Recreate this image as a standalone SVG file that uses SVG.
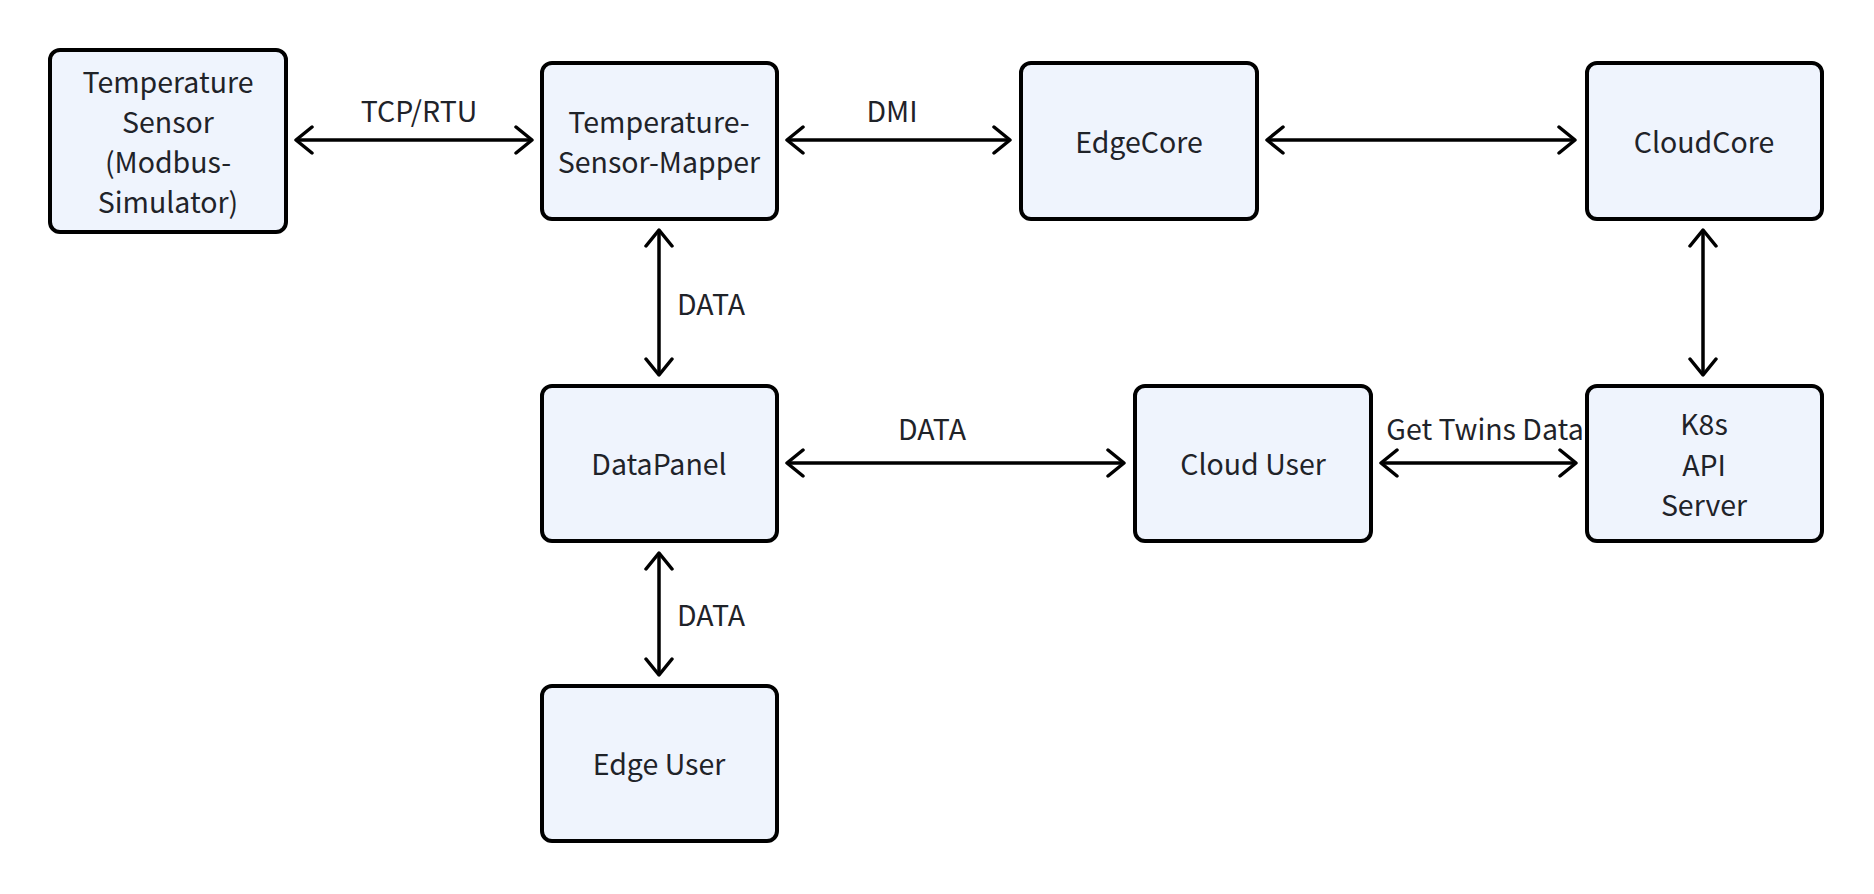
<svg xmlns="http://www.w3.org/2000/svg" width="1874" height="894" viewBox="0 0 1874 894">
<defs>
<style>
.node rect{fill:#eff4fd;stroke:#000;stroke-width:4}
.node text,.lbl{font-family:"Noto Sans CJK SC","Noto Sans",sans-serif;font-size:28.5px;fill:#1f2329;text-anchor:middle}
.lbl.l{text-anchor:start}
.conn line{stroke:#000;stroke-width:3.5;fill:none}
</style>
<marker id="at" viewBox="0 0 20 30" refX="18" refY="15" markerWidth="20" markerHeight="30" markerUnits="userSpaceOnUse" orient="auto-start-reverse">
<path d="M2,2 L18,15 L2,28" fill="none" stroke="#000" stroke-width="3.5" stroke-linecap="round" stroke-linejoin="round"/>
</marker>
</defs>
<rect width="1874" height="894" fill="#fff"/>
<g id="connectors" class="conn">
<line x1="296" y1="140" x2="532" y2="140" marker-start="url(#at)" marker-end="url(#at)"/>
<line x1="787" y1="140" x2="1010" y2="140" marker-start="url(#at)" marker-end="url(#at)"/>
<line x1="1267" y1="140" x2="1575" y2="140" marker-start="url(#at)" marker-end="url(#at)"/>
<line x1="1703" y1="230" x2="1703" y2="375" marker-start="url(#at)" marker-end="url(#at)"/>
<line x1="659" y1="230" x2="659" y2="375" marker-start="url(#at)" marker-end="url(#at)"/>
<line x1="787" y1="463" x2="1124" y2="463" marker-start="url(#at)" marker-end="url(#at)"/>
<line x1="1381" y1="463" x2="1576" y2="463" marker-start="url(#at)" marker-end="url(#at)"/>
<line x1="659" y1="553" x2="659" y2="675" marker-start="url(#at)" marker-end="url(#at)"/>
<text class="lbl" x="419" y="122">TCP/RTU</text>
<text class="lbl" x="892" y="122">DMI</text>
<text class="lbl l" x="677" y="315">DATA</text>
<text class="lbl" x="932" y="440">DATA</text>
<text class="lbl" x="1485" y="440">Get Twins Data</text>
<text class="lbl l" x="677" y="626">DATA</text>
</g>
<g id="temperature-sensor" class="node">
<rect x="50" y="50" width="236" height="182" rx="10"/>
<text x="168" y="93">Temperature</text>
<text x="168" y="133">Sensor</text>
<text x="168" y="173">(Modbus-</text>
<text x="168" y="213">Simulator)</text>
</g>
<g id="mapper" class="node">
<rect x="542" y="63" width="235" height="156" rx="10"/>
<text x="659" y="133">Temperature-</text>
<text x="659" y="173">Sensor-Mapper</text>
</g>
<g id="edgecore" class="node">
<rect x="1021" y="63" width="236" height="156" rx="10"/>
<text x="1139" y="153">EdgeCore</text>
</g>
<g id="cloudcore" class="node">
<rect x="1587" y="63" width="235" height="156" rx="10"/>
<text x="1704" y="153">CloudCore</text>
</g>
<g id="datapanel" class="node">
<rect x="542" y="386" width="235" height="155" rx="10"/>
<text x="659" y="475">DataPanel</text>
</g>
<g id="cloud-user" class="node">
<rect x="1135" y="386" width="236" height="155" rx="10"/>
<text x="1253" y="475">Cloud User</text>
</g>
<g id="k8s-api-server" class="node">
<rect x="1587" y="386" width="235" height="155" rx="10"/>
<text x="1704" y="435">K8s</text>
<text x="1704" y="476">API</text>
<text x="1704" y="516">Server</text>
</g>
<g id="edge-user" class="node">
<rect x="542" y="686" width="235" height="155" rx="10"/>
<text x="659" y="775">Edge User</text>
</g>
</svg>
